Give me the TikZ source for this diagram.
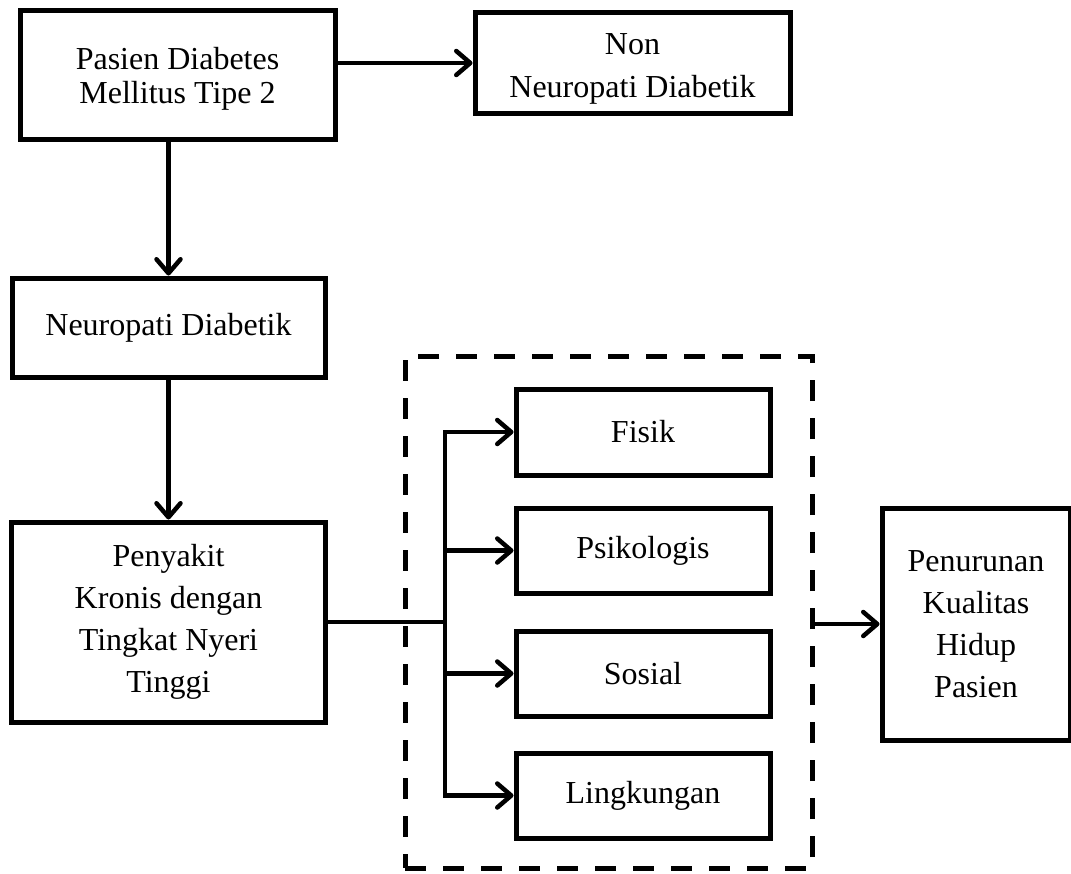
\documentclass[tikz,border=0pt]{standalone}
\usepackage{fontspec}
\setmainfont{Liberation Serif}
\usetikzlibrary{arrows.meta}
\newcommand{\shiftdowntext}[2]{\raisebox{-#1}[\height][\depth]{\begin{tabular}{@{}c@{}}#2\end{tabular}}}
\tikzset{
  box/.style={draw=black, line width=5pt, fill=white, inner sep=0pt, align=center,
    font=\fontsize{32}{42}\selectfont},
  dashbox/.style={draw=black, line width=5pt, dash pattern=on 21pt off 17pt, inner sep=0pt},
  arr/.style={draw=black, line width=4.5pt, -{Straight Barb[length=14pt, width=24pt, round]}},
  conn/.style={draw=black, line width=4.5pt},
}
\begin{document}
\begin{tikzpicture}[x=1pt,y=-1pt]
\useasboundingbox (0,0) rectangle (1071,873);
\fill[white] (0,0) rectangle (1071,873);
% dashed group
\node[dashbox, minimum width=407pt, minimum height=512pt] (grp) at (608.5,612) {};
% boxes
\node[box, minimum width=315pt, minimum height=129pt, font=\fontsize{32}{34}\selectfont] (pasien) at (177.5,75) {\shiftdowntext{5pt}{Pasien Diabetes\\Mellitus Tipe 2}};
\node[box, minimum width=315pt, minimum height=101pt, font=\fontsize{32}{43}\selectfont] (non) at (632.5,63) {\shiftdowntext{4pt}{Non\\Neuropati Diabetik}};
\node[box, minimum width=313pt, minimum height=99pt] (neuro) at (168.5,327.5) {Neuropati Diabetik};
\node[box, minimum width=314pt, minimum height=200pt] (kronis) at (168.5,622) {Penyakit\\Kronis dengan\\Tingkat Nyeri\\Tinggi};
\node[box, minimum width=254pt, minimum height=86pt] (fisik) at (643,432) {Fisik};
\node[box, minimum width=254pt, minimum height=85pt] (psiko) at (643,550.5) {Psikologis};
\node[box, minimum width=254pt, minimum height=85pt] (sosial) at (643,673.5) {Sosial};
\node[box, minimum width=254pt, minimum height=85pt] (lingk) at (643,795.5) {Lingkungan};
\node[box, minimum width=188pt, minimum height=232pt] (hasil) at (976,624) {Penurunan\\Kualitas\\Hidup\\Pasien};
% connectors
\coordinate (j) at (445,620);
\draw[arr] (pasien.east |- non.west) -- (non.west);
\draw[arr] (pasien.south -| neuro.north) -- (neuro.north);
\draw[arr] (neuro.south) -- (neuro.south |- kronis.north);
\draw[conn] (kronis.east) -- (kronis.east -| j);
\draw[arr, line join=miter] (j |- lingk.west) -- (j |- fisik.west) -- (fisik.west);
\draw[arr] (j |- psiko.west) -- (psiko.west);
\draw[arr] (j |- sosial.west) -- (sosial.west);
\draw[arr, line join=miter] (j |- psiko.west) -- (j |- lingk.west) -- (lingk.west);
\draw[arr] (grp.east |- hasil.west) -- (hasil.west);
\end{tikzpicture}
\end{document}
